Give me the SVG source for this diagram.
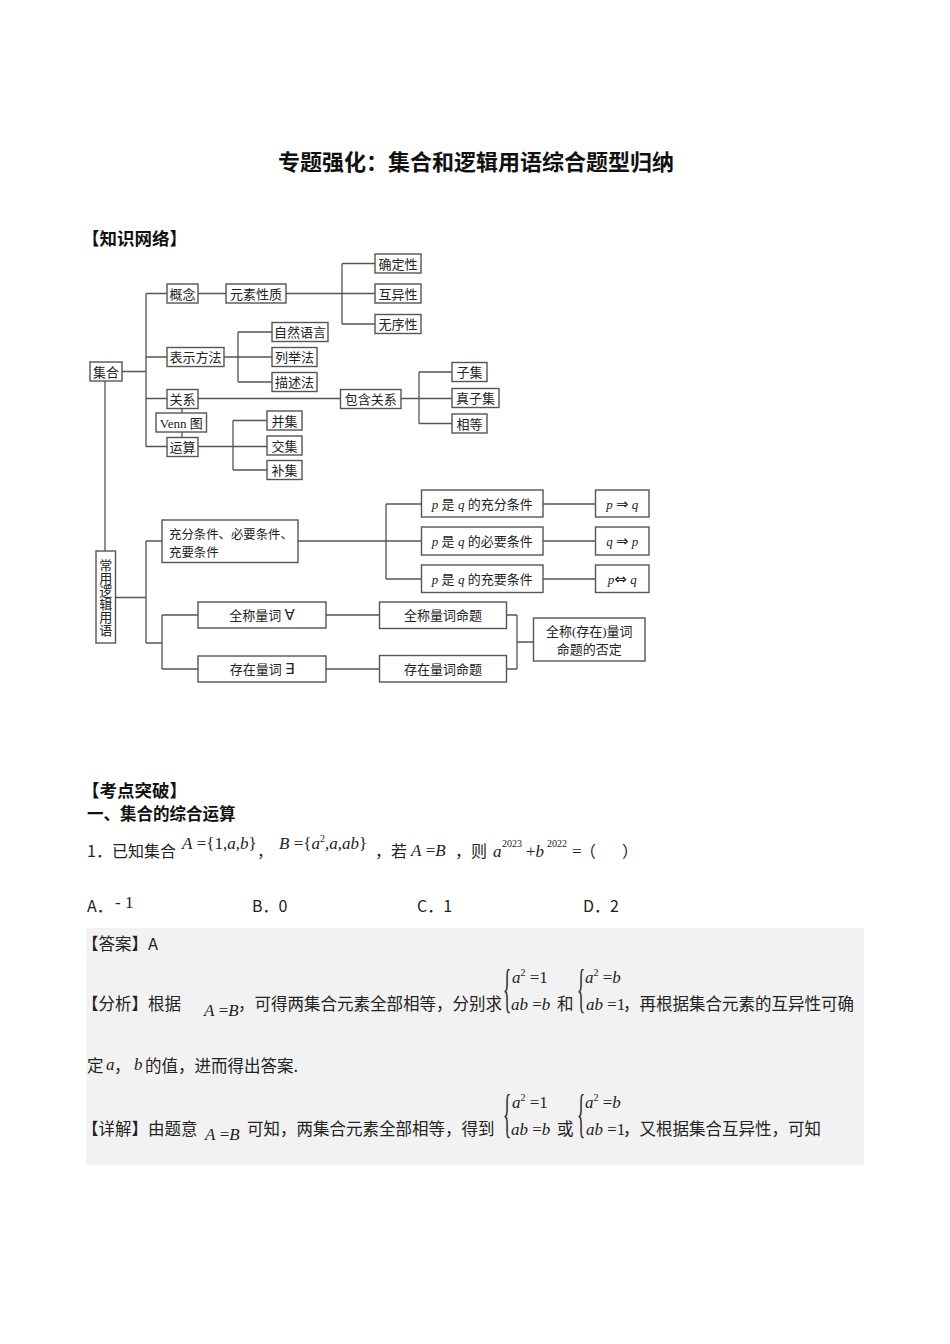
<svg xmlns="http://www.w3.org/2000/svg" width="950" height="1344" viewBox="0 0 950 1344">
<style>
.b{fill:#fff;stroke:#555;stroke-width:1.4}
.c{fill:none;stroke:#555;stroke-width:1.3}
.t{font-family:"Liberation Serif","DejaVu Serif","Noto Sans CJK SC",serif;font-size:13px;fill:#222;text-anchor:middle}
.l{font-family:"Liberation Serif","DejaVu Serif","Noto Sans CJK SC",serif;font-size:12.4px;fill:#222}
.i{font-style:italic}
.ar{font-family:"DejaVu Sans",sans-serif;font-size:15px}
.h{font-family:"Noto Sans CJK SC","Liberation Sans",sans-serif;font-weight:bold;fill:#111}
.s{font-family:"Noto Sans CJK SC","Liberation Sans",sans-serif;font-size:16px;fill:#222}
.m{font-family:"Liberation Serif","DejaVu Serif",serif;font-size:17px;fill:#222}
.z{font-family:"Noto Sans CJK SC","Liberation Serif",serif;font-size:16.5px;fill:#222}
.sup{font-size:10px}
</style>
<rect width="950" height="1344" fill="#fff"/>

<text class="h" x="476" y="170" font-size="22" text-anchor="middle">专题强化：集合和逻辑用语综合题型归纳</text>
<text class="h" x="82" y="245" font-size="17.5">【知识网络】</text>

<g id="connectors">
<path class="c" d="M122,371.5H146M146,293.5V447M146,293.5H167M146,357H167M146,398.5H167M146,446.5H167"/>
<path class="c" d="M198,293.5H226M286,293.5H375M342,263.5V324M342,263.5H375M342,324H375"/>
<path class="c" d="M224,357H272M238,332V382M238,332H272M238,382H272"/>
<path class="c" d="M198,398.5H340.5M401,398.5H452M419,372V423.5M419,372H452M419,423.5H452"/>
<path class="c" d="M182,408.5V413M182,432V437.5"/>
<path class="c" d="M198,446.5H267M233,420.5V470M233,420.5H267M233,470H267"/>
<path class="c" d="M105,381V551M115.5,597.5H146M146,541V643M146,541H162M146,643H162M162,615V669M162,615H198M162,669H198"/>
<path class="c" d="M298,541H421.5M386,504V579M386,504H421.5M386,579H421.5"/>
<path class="c" d="M543,504H595.5M543,541H595.5M543,579H595.5"/>
<path class="c" d="M326,615H379.5M326,669H379.5M506.5,615H517M506.5,669H517M517,615V669M517,642H533.5"/>
</g>

<g id="n-jihe"><rect class="b" x="90" y="362" width="32" height="19"/><text class="t" x="106" y="376.5">集合</text></g>
<g id="n-gainian"><rect class="b" x="167" y="284" width="31" height="19"/><text class="t" x="182.5" y="298.5">概念</text></g>
<g id="n-yuansu"><rect class="b" x="226" y="284" width="60" height="19"/><text class="t" x="256" y="298.5">元素性质</text></g>
<g id="n-queding"><rect class="b" x="375" y="254" width="46" height="19"/><text class="t" x="398" y="268.5">确定性</text></g>
<g id="n-huyi"><rect class="b" x="375" y="284" width="46" height="19"/><text class="t" x="398" y="298.5">互异性</text></g>
<g id="n-wuxu"><rect class="b" x="375" y="314.5" width="46" height="19"/><text class="t" x="398" y="329">无序性</text></g>
<g id="n-biaoshi"><rect class="b" x="167" y="347.5" width="57" height="19"/><text class="t" x="195.5" y="362">表示方法</text></g>
<g id="n-ziran"><rect class="b" x="272" y="322.5" width="56" height="19"/><text class="t" x="300" y="337">自然语言</text></g>
<g id="n-liju"><rect class="b" x="272" y="347.5" width="45" height="19"/><text class="t" x="294.5" y="362">列举法</text></g>
<g id="n-miaoshu"><rect class="b" x="272" y="372.5" width="45" height="19"/><text class="t" x="294.5" y="387">描述法</text></g>
<g id="n-guanxi"><rect class="b" x="167" y="389.5" width="31" height="19"/><text class="t" x="182.5" y="404">关系</text></g>
<g id="n-baohan"><rect class="b" x="340.5" y="389.5" width="60.5" height="19"/><text class="t" x="370.75" y="404">包含关系</text></g>
<g id="n-ziji"><rect class="b" x="452" y="362.5" width="35" height="19"/><text class="t" x="469.5" y="377">子集</text></g>
<g id="n-zhenziji"><rect class="b" x="452" y="388.5" width="47" height="19"/><text class="t" x="475.5" y="403">真子集</text></g>
<g id="n-xiangdeng"><rect class="b" x="452" y="414" width="35" height="19"/><text class="t" x="469.5" y="428.5">相等</text></g>
<g id="n-venn"><rect class="b" x="156" y="413" width="50.5" height="19"/><text class="t" x="181.25" y="427.5">Venn 图</text></g>
<g id="n-yunsuan"><rect class="b" x="167" y="437.5" width="31" height="19"/><text class="t" x="182.5" y="452">运算</text></g>
<g id="n-bingji"><rect class="b" x="267" y="411" width="35" height="19"/><text class="t" x="284.5" y="425.5">并集</text></g>
<g id="n-jiaoji"><rect class="b" x="267" y="436" width="35" height="19"/><text class="t" x="284.5" y="450.5">交集</text></g>
<g id="n-buji"><rect class="b" x="267" y="460.5" width="35" height="19"/><text class="t" x="284.5" y="475">补集</text></g>

<g id="n-luoji"><rect class="b" x="96" y="551" width="19.5" height="92"/>
<text class="t" x="105.75" font-size="12.3"><tspan x="105.75" y="569.5">常</tspan><tspan x="105.75" y="582.6">用</tspan><tspan x="105.75" y="595.7">逻</tspan><tspan x="105.75" y="608.8">辑</tspan><tspan x="105.75" y="621.9">用</tspan><tspan x="105.75" y="635">语</tspan></text></g>
<g id="n-tiaojian"><rect class="b" x="162" y="520" width="136" height="42.5"/><text class="l" x="169" y="538.5">充分条件、必要条件、</text><text class="l" x="169" y="557">充要条件</text></g>
<g id="n-quancheng"><rect class="b" x="198" y="602" width="128" height="26"/><text class="t" x="262" y="619.5">全称量词 <tspan class="ar" font-size="13">∀</tspan></text></g>
<g id="n-cunzai"><rect class="b" x="198" y="656" width="128" height="26"/><text class="t" x="262" y="673.5">存在量词 <tspan class="ar" font-size="13">∃</tspan></text></g>
<g id="n-chongfen"><rect class="b" x="421.5" y="490" width="121.5" height="27"/><text class="t" x="482.25" y="508.5"><tspan class="i">p</tspan> 是 <tspan class="i">q</tspan> 的充分条件</text></g>
<g id="n-biyao"><rect class="b" x="421.5" y="527" width="121.5" height="28"/><text class="t" x="482.25" y="545.5"><tspan class="i">p</tspan> 是 <tspan class="i">q</tspan> 的必要条件</text></g>
<g id="n-chongyao"><rect class="b" x="421.5" y="565" width="121.5" height="27.5"/><text class="t" x="482.25" y="583.5"><tspan class="i">p</tspan> 是 <tspan class="i">q</tspan> 的充要条件</text></g>
<g id="n-pq1"><rect class="b" x="595.5" y="490" width="53.5" height="27"/><text class="t" x="622.25" y="508.5"><tspan class="i">p</tspan> <tspan class="ar">⇒</tspan> <tspan class="i">q</tspan></text></g>
<g id="n-pq2"><rect class="b" x="595.5" y="527" width="53.5" height="28"/><text class="t" x="622.25" y="545.5"><tspan class="i">q</tspan> <tspan class="ar">⇒</tspan> <tspan class="i">p</tspan></text></g>
<g id="n-pq3"><rect class="b" x="595.5" y="565" width="53.5" height="27.5"/><text class="t" x="622.25" y="583.5"><tspan class="i">p</tspan><tspan class="ar">⇔</tspan> <tspan class="i">q</tspan></text></g>
<g id="n-qcmt"><rect class="b" x="379.5" y="602" width="127" height="26.5"/><text class="t" x="443" y="619.5">全称量词命题</text></g>
<g id="n-czmt"><rect class="b" x="379.5" y="655.5" width="127" height="26.5"/><text class="t" x="443" y="673.5">存在量词命题</text></g>
<g id="n-fouding"><rect class="b" x="533.5" y="618" width="111.5" height="43"/><text class="t" x="589.25" y="635.5">全称(存在)量词</text><text class="t" x="589.25" y="653.5">命题的否定</text></g>

<text class="h" x="82" y="797" font-size="17.5">【考点突破】</text>
<text class="h" x="87" y="820" font-size="16.5">一、集合的综合运算</text>

<text class="s" x="87" y="857">1．已知集合</text>
<text class="m" x="182" y="849"><tspan class="i">A</tspan> ={1,<tspan class="i">a</tspan>,<tspan class="i">b</tspan>}</text>
<text class="s" x="257" y="857">，</text>
<text class="m" x="279" y="849"><tspan class="i">B</tspan> ={<tspan class="i">a</tspan><tspan class="sup" dy="-7">2</tspan><tspan dy="7">,</tspan><tspan class="i">a</tspan>,<tspan class="i">ab</tspan>}</text>
<text class="s" x="375" y="857">，若</text>
<text class="m" x="411" y="856" font-size="18.5"><tspan class="i">A</tspan> =<tspan class="i">B</tspan></text>
<text class="s" x="455" y="857">，则</text>
<text class="m i" x="493" y="857" font-size="18">a</text>
<text class="m sup" x="502" y="847">2023</text>
<text class="m" x="526" y="857" font-size="18">+<tspan class="i">b</tspan></text>
<text class="m sup" x="547" y="847">2022</text>
<text class="m" x="572" y="857" font-size="18">=</text>
<text class="s" x="580" y="857">（</text>
<text class="s" x="622" y="857">）</text>

<text class="s" x="87" y="912">A．</text>
<text class="m" x="115" y="908" font-size="11">- 1</text>
<text class="s" x="252" y="912">B．0</text>
<text class="s" x="417" y="912">C．1</text>
<text class="s" x="583" y="912">D．2</text>

<rect x="86" y="928" width="778" height="237" fill="#f2f2f2"/>
<text class="z" x="82" y="950">【答案】<tspan font-family="Noto Sans CJK SC,Liberation Sans,sans-serif">A</tspan></text>

<text class="z" x="82" y="1010">【分析】根据</text>
<text class="m" x="204" y="1016" font-size="18"><tspan class="i">A</tspan> =<tspan class="i">B</tspan></text>
<text class="z" x="238" y="1010">，可得两集合元素全部相等，分别求</text>
<text class="m" transform="translate(503,1006) scale(1,3.1)">{</text>
<text class="m" x="512" y="983"><tspan class="i">a</tspan><tspan class="sup" dy="-7">2</tspan><tspan dy="7"> =1</tspan></text>
<text class="m" x="511" y="1010"><tspan class="i">ab</tspan> =<tspan class="i">b</tspan></text>
<text class="z" x="557" y="1010">和</text>
<text class="m" transform="translate(577,1006) scale(1,3.1)">{</text>
<text class="m" x="585" y="983"><tspan class="i">a</tspan><tspan class="sup" dy="-7">2</tspan><tspan dy="7"> =</tspan><tspan class="i">b</tspan></text>
<text class="m" x="586" y="1010"><tspan class="i">ab</tspan> =1</text>
<text class="z" x="623" y="1010">，再根据集合元素的互异性可确</text>

<text class="z" x="87" y="1072">定</text>
<text class="m i" x="106" y="1070" font-size="18">a</text>
<text class="z" x="114" y="1072">，</text>
<text class="m i" x="134" y="1070" font-size="18">b</text>
<text class="z" x="145" y="1072">的值，进而得出答案.</text>

<text class="z" x="82" y="1135">【详解】由题意</text>
<text class="m" x="205" y="1140" font-size="18"><tspan class="i">A</tspan> =<tspan class="i">B</tspan></text>
<text class="z" x="247" y="1135">可知，两集合元素全部相等，得到</text>
<text class="m" transform="translate(503,1131) scale(1,3.1)">{</text>
<text class="m" x="512" y="1108"><tspan class="i">a</tspan><tspan class="sup" dy="-7">2</tspan><tspan dy="7"> =1</tspan></text>
<text class="m" x="511" y="1135"><tspan class="i">ab</tspan> =<tspan class="i">b</tspan></text>
<text class="z" x="557" y="1135">或</text>
<text class="m" transform="translate(577,1131) scale(1,3.1)">{</text>
<text class="m" x="585" y="1108"><tspan class="i">a</tspan><tspan class="sup" dy="-7">2</tspan><tspan dy="7"> =</tspan><tspan class="i">b</tspan></text>
<text class="m" x="586" y="1135"><tspan class="i">ab</tspan> =1</text>
<text class="z" x="623" y="1135">，又根据集合互异性，可知</text>
</svg>
